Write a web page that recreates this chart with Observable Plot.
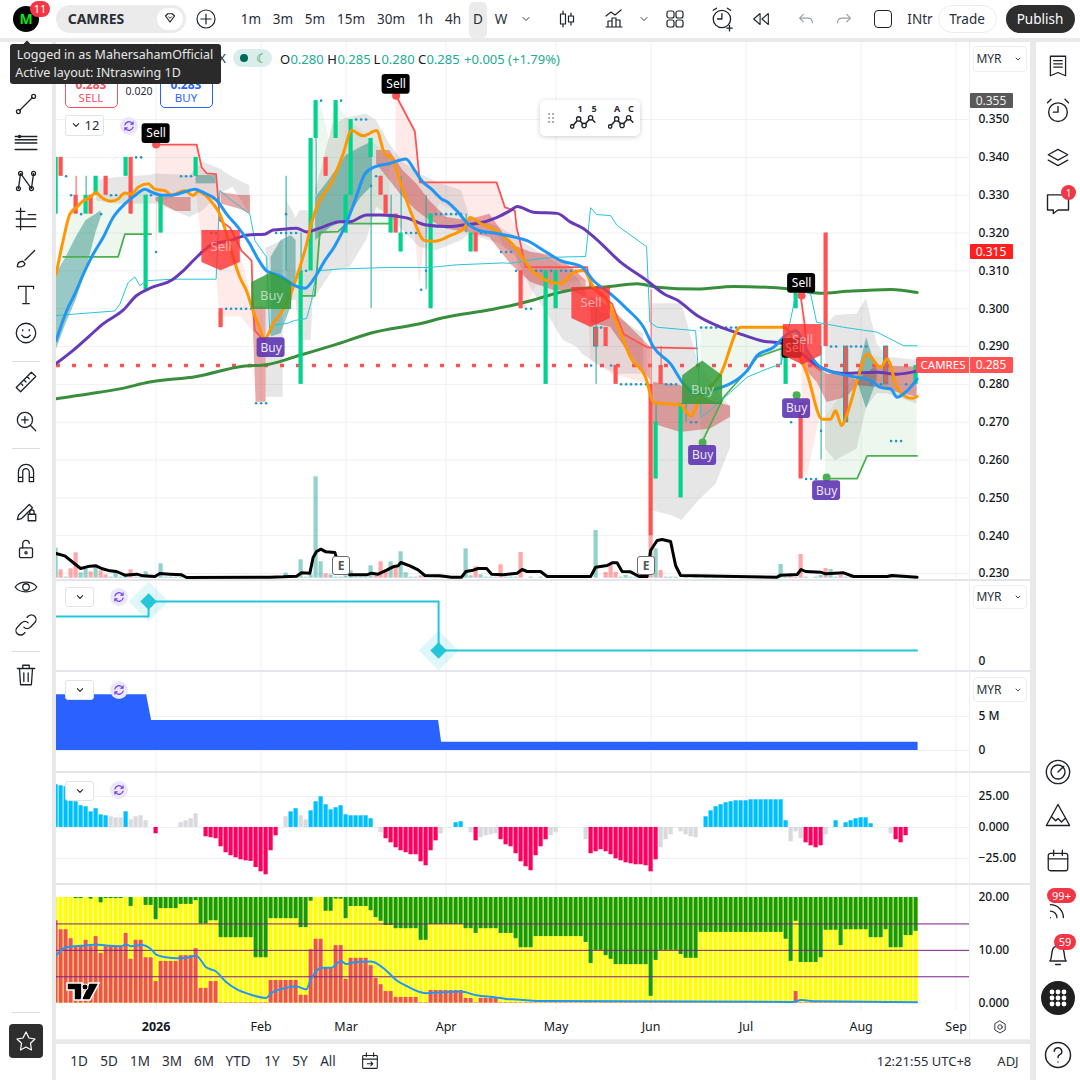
<!DOCTYPE html>
<html><head><meta charset="utf-8">
<script src="https://cdn.jsdelivr.net/npm/d3@7"></script>
<script src="https://cdn.jsdelivr.net/npm/@observablehq/plot@0.6"></script>
<style>
html,body{margin:0;padding:0;background:#e9e9e9;}
#root{position:relative;width:1080px;height:1080px;overflow:hidden;background:#e9e9e9;font-family:"Noto Sans","Open Sans",sans-serif;color:#131722;}
#root svg.plot,#root svg{display:block;max-width:none;}
.abs{position:absolute;}
.t{position:absolute;font-size:13.5px;line-height:16px;white-space:nowrap;transform:translate(-50%,-50%);color:#2a2e39;}
.box{position:absolute;box-sizing:border-box;}
</style></head><body><div id="root"></div>
<script>
// ---------- bar positions and month ticks ----------
const monthTicks=[20,41,58,78,100,119,138,161,180];
const monthLabels=["2026","Feb","Mar","Apr","May","Jun","Jul","Aug","Sep"];
const priceTicks=[0.23,0.24,0.25,0.26,0.27,0.28,0.29,0.30,0.31,0.32,0.33,0.34,0.35];
const lastPrice=0.285;

// ---------- candles [bar, open, close, high, low] ----------
const candles=[[0,.325,.34,.34,.325],[1,.34,.335,.34,.335],[4,.33,.325,.335,.325],[6,.325,.33,.335,.325],[7,.33,.325,.33,.325],[8,.33,.335,.335,.33],[10,.335,.33,.335,.33],[14,.335,.34,.34,.335],[15,.34,.325,.34,.325],[18,.305,.33,.33,.305],[21,.32,.33,.33,.32],[28,.335,.34,.34,.335],[33,.30,.295,.30,.295],[46,.325,.325,.335,.31],[49,.28,.31,.32,.28],[51,.31,.345,.345,.31],[52,.345,.355,.355,.33],[54,.34,.335,.34,.335],[56,.345,.355,.355,.345],[58,.32,.33,.33,.32],[59,.33,.35,.35,.33],[63,.34,.345,.345,.30],[65,.335,.33,.335,.33],[66,.33,.325,.33,.325],[67,.32,.325,.33,.32],[68,.325,.32,.325,.32],[69,.315,.32,.335,.315],[74,.31,.31,.33,.305],[75,.30,.325,.325,.30],[82,.32,.32,.325,.32],[83,.315,.32,.32,.315],[84,.32,.315,.32,.315],[93,.31,.30,.31,.30],[98,.28,.31,.31,.28],[100,.30,.31,.31,.30],[108,.295,.29,.30,.28],[110,.295,.29,.295,.29],[112,.285,.28,.285,.28],[119,.28,.24,.305,.24],[120,.255,.27,.275,.255],[121,.285,.28,.29,.28],[125,.25,.275,.275,.25],[126,.271,.271,.275,.27],[145,.29,.29,.29,.285],[146,.28,.29,.29,.28],[148,.30,.305,.305,.30],[149,.275,.255,.275,.255],[153,.268,.268,.29,.26],[154,.32,.29,.32,.29],[158,.29,.27,.29,.27],[166,.29,.28,.29,.28],[172,.28,.285,.285,.28]];
const mixedBars=[108,158,166];
const dojiDots=[[2,.335],[3,.33],[5,.325],[9,.325],[11,.33],[12,.33],[13,.33],[16,.34],[17,.34],[19,.33],[20,.315],[25,.335],[26,.335],[27,.335],[29,.315],[31,.32],[32,.32],[34,.30],[35,.30],[36,.30],[37,.30],[38,.30],[39,.30],[40,.275],[41,.275],[42,.275],[44,.32],[45,.32],[46,.32],[47,.32],[48,.32],[46,.325],[50,.31],[53,.355],[57,.355],[60,.35],[61,.35],[62,.35],[63,.3325],[64,.335],[70,.32],[71,.32],[72,.32],[73,.305],[74,.31],[76,.325],[77,.325],[78,.325],[79,.325],[80,.325],[81,.325],[85,.32],[86,.32],[87,.32],[88,.32],[89,.315],[90,.315],[91,.315],[92,.31],[94,.30],[95,.30],[96,.31],[97,.31],[99,.31],[101,.31],[102,.31],[103,.31],[104,.31],[105,.31],[107,.285],[109,.295],[111,.285],[113,.28],[114,.28],[115,.28],[116,.28],[117,.28],[118,.28],[122,.28],[123,.28],[124,.28],[127,.27],[128,.27],[129,.295],[130,.295],[131,.295],[132,.295],[133,.295],[134,.295],[135,.295],[136,.295],[147,.27],[150,.255],[151,.255],[152,.255],[153,.2677],[155,.29],[156,.29],[159,.29],[160,.29],[161,.29],[162,.29],[163,.28],[164,.28],[165,.28],[167,.265],[168,.265],[169,.265],[170,.28]];

// ---------- moving averages [bar, price] ----------
const orange=[[0,.3091],[1.4,.318],[2.75,.325],[4.1,.3268],[5.4,.3285],[6.75,.3294],[8,.3307],[9.1,.3294],[11.1,.3284],[12.4,.329],[13.75,.3306],[15.1,.3303],[16.4,.3321],[18.4,.333],[19.75,.3316],[21.75,.3312],[23.1,.33],[25.75,.3312],[27.4,.3299],[28.4,.331],[29.75,.3301],[31.4,.3277],[32.75,.325],[34.1,.3197],[35.4,.3136],[36.75,.3083],[38.1,.3047],[39.4,.2994],[40.4,.296],[41.75,.2921],[43.4,.296],[46.4,.3022],[48.1,.3083],[50.1,.3171],[51.1,.3228],[52.4,.3277],[55.1,.3334],[57.4,.3409],[59.1,.3471],[61.4,.3457],[64.1,.3471],[65.75,.3409],[67.1,.34],[68.75,.3338],[71.1,.325],[73.75,.318],[75.75,.3178],[78.75,.3193],[81.75,.3215],[82.75,.3241],[85.1,.3224],[88.1,.3206],[92.1,.3158],[95.2,.3101],[98.2,.3074],[100.9,.3066],[103.5,.3096],[105.5,.3101],[107.5,.3057],[109.9,.303],[112.2,.296],[114.9,.2871],[117.9,.2819],[119.5,.2752],[124.9,.2746],[126.9,.2717],[128.9,.2766],[132.9,.2827],[136.9,.2951],[145.6,.2951],[148.2,.2889],[150.2,.2827],[153.2,.2708],[154.9,.2708],[155.9,.273],[157.1,.2691],[158.2,.2722],[160.6,.2827],[162.2,.288],[164.9,.2845],[166.2,.2867],[168.2,.2792],[169.2,.2775],[171.2,.2763],[172.2,.2768]];
const blue=[[0,.2916],[2.1,.2994],[3.75,.3039],[5.75,.31],[7.4,.3144],[9.4,.3188],[11.4,.3241],[13.75,.3277],[15.75,.3299],[17.75,.3316],[19.1,.3308],[21.1,.33],[23.1,.33],[25.75,.3309],[27.75,.3316],[29.75,.3305],[32.1,.3287],[34.1,.325],[36.4,.3215],[38.75,.3171],[40.4,.3131],[42.1,.31],[44.75,.3087],[47.75,.3061],[49.75,.3054],[51.75,.3083],[53.75,.3127],[55.75,.3166],[58.1,.3228],[59.75,.3285],[61.75,.3356],[63.75,.3375],[66.75,.3384],[69.95,.3396],[71.75,.3365],[73.4,.3334],[75.1,.3316],[77.1,.329],[78.4,.3281],[80.4,.3255],[82.1,.3228],[84.75,.3206],[88.1,.3199],[92.1,.3188],[94.2,.318],[97.5,.3154],[100.9,.3127],[105.2,.311],[107.5,.3074],[110.9,.3039],[114.2,.2999],[117.5,.2951],[119.5,.2898],[122.9,.2854],[125.5,.2801],[128.2,.2775],[130.9,.2783],[138.2,.2836],[140.2,.2876],[143.5,.2898],[145.9,.2929],[147.9,.2942],[150.2,.2889],[152.9,.2845],[156.9,.2827],[160.2,.2819],[162.9,.281],[164.9,.2792],[166.9,.2788],[168.2,.2766],[170.2,.2783],[172.2,.2814]];
const purple=[[0,.2855],[3.4,.289],[6.75,.2929],[9.4,.296],[13.4,.2996],[16.1,.3035],[18.75,.3054],[23.4,.3078],[25.4,.31],[28.1,.3136],[31.4,.3171],[34.75,.318],[38.4,.3195],[41.75,.3197],[43.4,.3208],[46.1,.3211],[48.1,.3213],[50.1,.3203],[52.75,.3213],[56.75,.323],[58.75,.323],[62.1,.3248],[65.1,.3248],[70.1,.324],[74.1,.3221],[78.1,.3217],[81.4,.3221],[84.1,.3225],[88.1,.3241],[90.9,.326],[92.2,.327],[95.5,.3255],[100.2,.3252],[102.9,.3229],[105.2,.3214],[108.2,.3182],[112.9,.3123],[118.2,.3074],[121.6,.3039],[124.2,.3023],[128.2,.2982],[132.2,.2955],[136.9,.2933],[141.5,.2914],[144.9,.2909],[148.2,.2889],[152.9,.2845],[157.5,.2829],[164.2,.2832],[168.2,.2827],[172.2,.2835]];
const longMA=[[0,.2762],[6.75,.2775],[12.75,.2788],[18.75,.2806],[28.1,.2821],[37.4,.2848],[42.1,.2852],[48.75,.2877],[55.4,.2903],[63.4,.2937],[73.4,.2962],[77.4,.2976],[86.75,.2997],[90.9,.3008],[94.9,.3021],[99.5,.3039],[104.2,.3052],[110.2,.3058],[116.2,.3066],[120.2,.3057],[128.2,.3052],[135.5,.3059],[146.9,.3052],[152.9,.3041],[158.2,.3046],[166.9,.3051],[172.2,.3043]];
const cyan=[[0,.2982],[11.75,.2994],[12.75,.3012],[14.4,.3069],[15.75,.3084],[16.75,.3061],[18.1,.3074],[23.4,.3078],[32,.3078],[32.75,.3312],[34.75,.329],[38.75,.325],[39.75,.318],[42.1,.3136],[42.75,.2934],[43.4,.2956],[46.4,.2962],[47.75,.2969],[50.1,.2974],[51.1,.3022],[52.1,.31],[56.75,.3105],[66.75,.3109],[74.75,.3109],[80.1,.3116],[89.4,.3121],[90.9,.312],[94.9,.3129],[99.5,.3136],[105.9,.3138],[106.9,.3267],[108.1,.3249],[110.9,.3246],[112.2,.322],[118.1,.3164],[118.75,.2964],[120.2,.2951],[127.9,.2942],[128.5,.2827],[129,.2713],[131.5,.2739],[134.9,.2779],[138.2,.2819],[142.2,.2841],[145,.2854],[148.2,.3052],[150.9,.3039],[152.1,.2964],[157.5,.2951],[164.2,.2938],[169.5,.2902],[172.2,.2902]];

// ---------- trend stops [bar, price] ----------
const redStops=[
 [[19.95,.3434],[28.1,.3434],[29.1,.3374],[30.1,.3358],[32,.3356],[32.75,.3233],[34.75,.3215],[37.1,.3153],[39.1,.3127],[39.4,.2994],[39.75,.2943],[41.75,.2912]],
 [[68,.3563],[71.75,.3469],[72.75,.3334],[88.1,.3334],[89.75,.3268],[91.75,.3259],[92.1,.3215],[92.9,.3171],[93.9,.311],[106.2,.311],[106.9,.3057],[111.2,.3013],[113.5,.2933],[118.2,.2898],[128.2,.2895]],
 [[148.9,.3035],[149.7,.296],[150.2,.2863],[152.9,.2836]]];
const greenStops=[
 [[1.4,.3137],[12.4,.3137],[13.75,.3197],[19,.3197]],
 [[49.1,.3034],[51.75,.3034],[52.75,.3202],[56.4,.3204],[58.1,.3225],[66.75,.3225]],
 [[129,.2642],[133.5,.2766],[138.2,.2836],[140.2,.2872],[144.9,.2894]],
 [[153.9,.2551],[160.2,.2551],[162.2,.2611],[172.2,.2611]]];

// ---------- shaded bands [bar, upper, lower] ----------
const pinkBands=[
 [[20,.3434,.3171],[21.4,.3434,.3285],[28,.3434,.3312],[29,.3374,.3194],[32,.3338,.31],[32.75,.3215,.2978],[37,.3136,.2978],[39.4,.3022,.294],[41,.2934,.2925]],
 [[68,.3563,.34],[71.75,.3469,.3206],[72.75,.3334,.3056],[73.75,.3334,.318],[76.75,.3334,.3277],[88.1,.3334,.3206],[89.75,.3268,.3162],[92.1,.3215,.3144],[92.9,.3171,.303],[93.9,.311,.30],[96,.311,.306],[106,.311,.3074],[107,.3057,.2863],[111.2,.3013,.2827],[113.5,.2933,.2819],[118.2,.2898,.2801]],
 [[149.2,.3035,.258],[150.2,.2863,.2554],[152.9,.2836,.2722]]];
const paleGreenBands=[
 [[1.4,.318,.3137],[2.75,.325,.3137],[8,.3307,.3137],[12.4,.329,.3137],[13.75,.3306,.3197],[19,.3321,.3197]],
 [[49.1,.31,.3034],[51.75,.3268,.3034],[52.75,.355,.3202],[54.75,.3444,.3202],[55.75,.355,.3204],[58.1,.3506,.3225],[66.75,.34,.3225]],
 [[129,.2951,.2642],[133.5,.2951,.2766],[138.2,.2951,.2836],[140.2,.2951,.2872],[144.9,.2951,.2894]],
 [[153.9,.2713,.2551],[160.2,.2827,.2551],[162.2,.288,.2611],[166.2,.2867,.2611],[169.5,.2766,.2611],[172.2,.2766,.2611]]];
const greyBands=[
 [[8.1,.3338,.3285],[12.1,.3347,.3277],[18.75,.3352,.3277],[20.1,.3356,.3277],[26.75,.3352,.3241],[29.4,.3387,.3259],[32.75,.3369,.3303],[35.4,.3347,.3321],[38.75,.3325,.325]],
 [[42,.316,.2766],[45.4,.318,.2766]],
 [[46,.329,.3022],[48,.324,.3022],[48.75,.3259,.2916],[51,.3259,.2916],[51.4,.3285,.3022],[55.4,.3488,.31],[58.75,.3506,.3109],[62.1,.3515,.318],[64.1,.3497,.3268],[66.75,.3435,.3246],[69.4,.3387,.3206],[72.75,.3356,.3162],[76.1,.3334,.3153],[81.1,.3312,.318],[82.75,.3241,.3197],[88.75,.3215,.3171],[92.1,.3188,.3136],[94.9,.3163,.3057],[98.2,.3136,.2986],[101.5,.311,.2916],[104.2,.3083,.2898],[105.2,.306,.288],[108.2,.2995,.2854],[112.2,.2977,.2827],[117.5,.2933,.2827]],
 [[119.2,.3013,.2466],[123.2,.3013,.2453],[125.2,.3013,.244],[128.5,.2854,.2492],[132,.2790,.2536],[134.9,.2739,.2633]],
 [[153.9,.2955,.2629],[155.9,.2982,.2598],[160.2,.2986,.2629],[162.1,.3026,.2739],[164.2,.2907,.2775],[166.2,.2872,.2775],[172.2,.2863,.2748]]];
const tealBands=[
 [[0,.3091,.289],[2,.3136,.296],[4,.3188,.3022],[6,.3233,.31],[8,.325,.3202],[9,.3259,.3241]],
 [[28,.3352,.333],[32,.3352,.333]],
 [[43,.3136,.2925],[45,.318,.2934],[47,.3193,.3004],[48,.318,.3091]],
 [[51.9,.3294,.318],[55,.3347,.3215],[58,.3405,.3233],[61,.3427,.3294],[63,.344,.3321]],
 [[160.2,.2819,.281],[162.1,.2924,.2735],[164.2,.2836,.281]]];
const redBands=[
 [[20,.3294,.3285],[24,.3294,.3257],[27,.3294,.3257]],
 [[33,.3307,.3277],[36.75,.3299,.3263],[38.9,.3299,.325]],
 [[39.5,.3004,.2934],[40,.3004,.2753],[42,.3004,.2753]],
 [[64.1,.3418,.3382],[66.75,.3418,.3338],[69.4,.3365,.3294],[72.1,.333,.3259],[74.75,.3285,.3233],[78.1,.3241,.321],[82.1,.3233,.3202],[86.75,.325,.3188],[90.9,.3171,.3118],[94.9,.3149,.307],[99.5,.314,.3048],[103,.311,.3048],[106,.3074,.303]],
 [[107,.303,.296],[110.9,.3004,.2951],[114.2,.296,.2889],[118.9,.2898,.281]],
 [[119.5,.2805,.2695],[124.9,.2797,.2673],[130.9,.2757,.2682],[134.9,.2742,.2713]],
 [[148.9,.2916,.2854],[152.2,.2849,.2805],[154.2,.2827,.2752],[158.2,.2827,.2766],[160.2,.281,.2797],[164.2,.2849,.2792],[172.2,.2845,.2766]]];

// ---------- signal labels: [bar, tag price, dot price] ----------
const blackSell=[[20,.3463,.3434],[68,.3593,.3563],[149.1,.3067,.3035]];
const hiddenSell=[[147.2,.2895]];
const purpleBuy=[[43,.2897,.2925],[129.3,.2612,.2646],[148.1,.2736,.2771],[154.1,.2519,.2554]];
// big tags: [bar, top, bottom, tip]
const bigSell=[[33,.3207,.3122,.3100],[107,.3056,.2974,.2950],[149.3,.2958,.2876,.2851]];
const bigBuy=[[43.1,.3069,.2998,.3095],[129.3,.2823,.2747,.2862]];

// ---------- volume ----------
const volUp=[[0,90],[5,16],[6,27],[8,32],[12,17],[14,7],[18,19],[21,43],[46,15],[49,55],[51,10],[52,304],[53,49],[55,10],[58,7],[59,22],[63,37],[67,49],[69,79],[70,16],[82,88],[83,7],[85,10],[108,143],[114,8],[118,5],[120,88],[145,41],[153,8],[155,26]];
const volDown=[[1,25],[3,28],[4,76],[7,19],[9,22],[10,10],[15,25],[54,13],[64,7],[65,49],[66,22],[68,36],[73,7],[84,34],[89,40],[93,77],[110,17],[111,38],[112,17],[119,130],[121,23],[147,5],[149,71],[154,29],[157,8],[167,11]];
const volTiny=[2,11,13,16,17,19,20,22,23,24,25,26,27,28,47,48,50,56,57,60,61,62,71,72,74,75,76,77,78,79,86,87,88,90,91,92,95,97,99,101,103,105,113,115,116,117,122,123,124,126,128,130,132,134,136,138,140,142,144,146,148,150,152,156,158,159,160,161,162,163,164,165,166,168,169,170,171,172];
const volAvg=[[0,74],[1.75,67],[3.4,47],[4.9,29],[6.75,36],[8,37],[9.1,29],[10.75,22],[12.1,20],[13.75,9],[16.1,12],[17.4,7],[19.75,5],[20.75,14],[22.75,12],[25.1,10],[26.1,2],[42.75,3],[45.4,4],[48.1,6],[49.1,16],[50.75,15],[51.4,62],[52.1,80],[52.95,87],[53.95,79],[55.75,77],[56.5,40],[58.75,10],[62.1,10],[63.1,15],[64.4,12],[66.1,24],[67.4,34],[68.4,37],[68.95,47],[70.75,37],[72.4,25],[73.75,8],[76.75,7],[79.1,3],[81.1,3],[81.95,20],[83.4,24],[84.4,29],[86.1,29],[87.1,12],[89.4,10],[92.2,15],[93.2,26],[94.2,20],[96.9,20],[98.2,5],[106.9,5],[107.9,33],[110.2,38],[111.2,46],[112.2,46],[113.2,20],[114.9,19],[116.6,5],[118.2,5],[118.9,83],[120.2,113],[121.2,116],[122.9,110],[123.9,38],[124.9,8],[144.2,3],[144.9,9],[148.2,11],[149,26],[149.9,20],[152.9,18],[153.9,13],[157.5,16],[159.5,5],[166.2,5],[167.2,8],[172.2,3]];

// ---------- lower panes ----------
const stepLine=[[0,.0045],[18.5,.0045],[18.5,.006],[76.5,.006],[76.5,.0011],[172.2,.0011]];
const stepMarks=[[18.5,.006],[76.5,.0011]];
const floatArea=[[0,8.2],[18.1,8.2],[19.1,4.4],[76.5,4.4],[77.1,1.2],[172.4,1.2]];
const macd=[[34.4,'b'],[33.6,'b'],[32.8,'b'],[28,'b'],[20.7,'b'],[17.5,'b'],[16.7,'b'],[12.6,'b'],[15.1,'b'],[10.2,'b'],[9.4,'b'],[8.6,'g'],[7.8,'g'],[7.8,'g'],[12.6,'b'],[6.2,'g'],[8.6,'g'],[9.4,'g'],[5.4,'g'],[0,'g'],[-5.1,'r'],[0,'g'],[0,'g'],[0,'g'],[0,'g'],[3.8,'g'],[5.4,'g'],[7,'g'],[11,'g'],[0,'g'],
[-7.5,'r'],[-8.3,'r'],[-9.1,'r'],[-15.6,'r'],[-20.4,'r'],[-22.8,'r'],[-24.5,'r'],[-26.1,'r'],[-26.9,'r'],[-27.4,'r'],[-32.3,'r'],[-35.8,'r'],[-38.2,'r'],[-18.8,'r'],[-6.7,'r'],[0,'g'],[8.6,'g'],[12.6,'b'],[15.1,'b'],[9.4,'g'],[6.2,'g'],[13.4,'b'],[20.7,'b'],[24.7,'b'],[18.3,'b'],[14.2,'b'],[15.9,'b'],[17.5,'b'],[10.2,'b'],[9.4,'b'],[9.4,'b'],[9.4,'b'],[9.4,'b'],[7,'b'],[0,'g'],
[-4.3,'g'],[-9.1,'r'],[-12.4,'r'],[-16.4,'r'],[-18.8,'r'],[-20.4,'r'],[-22,'r'],[-22,'r'],[-27.7,'r'],[-30.9,'r'],[-18.8,'r'],[-10.8,'r'],[-5.1,'g'],[0,'g'],[0,'g'],[3.8,'b'],[4.6,'b'],[0,'g'],[-4.3,'g'],[-10.8,'r'],[-8.3,'g'],[-6.7,'g'],[-5.9,'g'],[-5.1,'g'],[-9.9,'r'],[-14,'r'],[-15.6,'r'],
[-21.2,'r'],[-27.7,'r'],[-31.7,'r'],[-34.9,'r'],[-22.8,'r'],[-15.6,'r'],[-9.9,'r'],[-6.7,'g'],[-4.3,'g'],[0,'g'],[0,'g'],[0,'g'],[0,'g'],[0,'g'],[-9.9,'g'],[-21.2,'r'],[-19.6,'r'],[-18,'r'],[-19.6,'r'],[-22,'r'],[-25.3,'r'],[-26.9,'r'],[-28.5,'r'],[-29.3,'r'],[-30.1,'r'],[-30.1,'r'],[-30.9,'r'],[-35.8,'r'],[-26.1,'r'],[-16.4,'g'],[-9.9,'g'],[-5.9,'g'],[0,'g'],[-3.5,'g'],[-5.9,'g'],[-7.5,'g'],[-8.3,'g'],[0,'g'],
[8.6,'b'],[13.4,'b'],[16.7,'b'],[18.3,'b'],[19.9,'b'],[20.7,'b'],[21.5,'b'],[21.5,'b'],[21.5,'b'],[22.3,'b'],[22.3,'b'],[22.3,'b'],[22.3,'b'],[22.3,'b'],[22.3,'b'],[22.3,'b'],[5.4,'b'],[-11.6,'g'],[-3.5,'g'],[-9.1,'g'],[-12.4,'r'],[-14.8,'r'],[-16.4,'r'],[-14.8,'r'],[-5.9,'g'],[0,'g'],[5.4,'b'],[0,'g'],[3.8,'b'],[5.4,'b'],[7,'b'],[7.8,'b'],[7.8,'b'],[3,'b'],[0,'g'],[0,'g'],[0,'g'],[-5.1,'g'],[-9.9,'r'],[-12.4,'r'],[-6.7,'r'],[0,'g'],[0,'g']];
const greenRuns=[[20,4],[19.8,2],[20,1],[19.7,1],[20,1],[19,1],[19.8,4],[20,1],[18.3,1],[20,2],[18.5,2],[15.8,1],[17.9,4],[18.7,3],[19.4,1],[15,2],[15.6,2],[12.4,7],[8.6,3],[16,6],[14.3,2],[19.3,1],[20,2],[17.4,2],[19.7,2],[16,1],[18.3,4],[17.5,1],[16.2,1],[15.5,1],[14.7,2],[14.1,5],[11.9,2],[14.9,7],[14.1,2],[13.2,1],[14.1,4],[13.2,3],[12.2,1],[10.5,3],[12.6,10],[11.5,1],[7.5,1],[10,2],[9,1],[8.3,1],[7.3,7],[1.3,1],[8.1,1],[10,4],[9.2,1],[8.5,3],[13.4,17],[12.1,1],[7.9,1],[15.5,1],[7.7,4],[8.6,1],[13.8,3],[10.9,1],[13.9,5],[12.4,3],[13.9,1],[10.5,3],[12.8,2],[13.6,1]];
const redRuns=[[15.6,1],[13.9,2],[12.2,1],[10.7,2],[11.9,1],[10.7,1],[12.6,1],[9.4,1],[10.7,4],[13.2,1],[8.3,1],[11.9,2],[8.6,2],[4.1,1],[7.9,4],[9,3],[10.3,1],[2.8,2],[4.1,2],[.1,10],[4.3,6],[1.5,2],[10.1,1],[12.1,2],[6.6,2],[10.9,2],[4.5,1],[8.5,4],[7.1,1],[4.7,1],[3.5,1],[2.2,2],[1.1,5],[.1,2],[2.4,7],[.9,2],[.1,1],[.9,4],[.1,59],[2.2,1],[.1,24]];
const flowLine=[[0,9],[2,10.6],[4,10.8],[6,10.9],[8,11.1],[10,10.9],[13,10.8],[14,11.1],[15,10.8],[17,11],[19,10.2],[20,9.2],[22,8.7],[24,8.5],[26,8.6],[28,9],[30,6.8],[32,6],[34,4],[36,2.7],[39,1.6],[42,1],[43,1.9],[46,2.9],[48,3.2],[50,2.6],[51,4.6],[53,6.7],[55,6.7],[57,8],[58,7.4],[60,7.8],[63,7.9],[66,6.2],[68,4.4],[70,3.3],[74,1.9],[81,2.2],[84,1.5],[88,1.1],[90,.8],[92,.7],[98,.4],[147.5,.25],[149,.6],[152,.35],[172.2,.2]];
const flowLevels=[5,10,15];

// ---------- colours ----------
const C={grid:"#eff0f4",orange:"#ff9800",blue:"#2196f3",purple:"#673ab7",ma:"#388e3c",cyan:"#26c6da",red:"#ff5252",green:"#4caf50",up:"#00d48a",wick:"#26a69a",ink:"#131722"};

const root=document.getElementById("root");
const expand=runs=>runs.flatMap(([v,n])=>Array(n).fill(v));
const xDomain=[0.08,182.88];
const X=d=>d[0],Y=d=>d[1];
const vGrid=Plot.ruleX(monthTicks,{stroke:C.grid,strokeWidth:1});

function place(el,left,top,z){el.style.position="absolute";el.style.left=left+"px";el.style.top=top+"px";el.style.zIndex=z||1;root.appendChild(el);return el;}
function pane(top,h,yDomain,marks,opts={},z=1){
  const svg=Plot.plot({width:974,height:h+(opts.marginBottom||0),marginLeft:0,marginRight:60,marginTop:0,marginBottom:opts.marginBottom||0,
    x:{domain:xDomain,axis:null},y:{domain:yDomain,axis:null},style:{background:"transparent",fontFamily:'"Noto Sans","Open Sans",sans-serif',fontSize:"12px",overflow:"visible"},marks});
  return place(svg,56,top,z);
}
const rightAxis=(ticks,fmt)=>Plot.axisY({anchor:"right",ticks,tickSize:0,tickPadding:8,tickFormat:fmt,fontSize:12,fontWeight:500,fill:C.ink,label:null});
const bandMarks=(bands,fill,opacity)=>bands.map(b=>Plot.areaY(b,{x:X,y1:d=>d[1],y2:d=>d[2],fill,fillOpacity:opacity,curve:"linear"}));
const lineMark=(data,stroke,w,curve="linear")=>Plot.line(data,{x:X,y:Y,stroke,strokeWidth:w,curve,strokeLinejoin:"round"});
// five-sided tag: flat box with a point on its top or bottom edge
const sellShape=([i,top,bot,tip])=>[[i-3.85,top,bot],[i,top,tip],[i+3.85,top,bot]];
const buyShape=([i,top,bot,tip])=>[[i-4,top,bot],[i,tip,bot],[i+4,top,bot]];

// white chart backdrop
const bg=document.createElement("div");bg.className="box";bg.style.cssText="left:56px;top:42px;width:974px;height:998px;background:#fff;";root.appendChild(bg);

// ---------- main price pane ----------
const isMixed=d=>mixedBars.includes(d[0]);
const bodyFill=d=>d[2]>=d[1]?C.up:C.red;
const wickColor=d=>(isMixed(d)||d[2]>=d[1])?C.wick:C.red;
const bodies=candles.filter(d=>d[1]!==d[2]);
const tagW=2.8,tagH=.00262;
pane(42,536,[.22868,.37037],[
  Plot.ruleY(priceTicks,{stroke:C.grid,strokeWidth:1}),vGrid,
  ...bandMarks(pinkBands,C.red,.12),
  ...bandMarks(paleGreenBands,C.green,.1),
  ...bandMarks(greyBands,"#808080",.2),
  ...bandMarks(tealBands,"#00796b",.4),
  ...bandMarks(redBands,"#c62828",.4),
  ...redStops.map(s=>lineMark(s,C.red,1.8)),
  ...greenStops.map(s=>lineMark(s,C.green,1.8)),
  Plot.ruleY([lastPrice],{x1:.08,x2:172.2,stroke:C.red,strokeWidth:3.5,strokeDasharray:"4 12"}),
  lineMark(longMA,C.ma,3,"monotone-x"),
  Plot.ruleX(candles,{x:X,y1:d=>d[4],y2:d=>d[3],stroke:wickColor,strokeWidth:1}),
  Plot.rect(bodies,{x1:d=>d[0]-.42,x2:d=>d[0]+.42,y1:d=>d[1],y2:d=>d[2],fill:bodyFill,stroke:d=>isMixed(d)?C.wick:"none",strokeWidth:1}),
  Plot.dot(dojiDots,{x:X,y:Y,r:1.3,fill:"#2196c9"}),
  lineMark(cyan,C.cyan,1),
  lineMark(purple,C.purple,3,"monotone-x"),
  lineMark(orange,C.orange,3,"monotone-x"),
  lineMark(blue,C.blue,3,"monotone-x"),
  // a Sell tag sitting behind the last big tag
  Plot.rect(hiddenSell,{x1:d=>d[0]-2,x2:d=>d[0]+2,y1:d=>d[1]-tagH,y2:d=>d[1]+tagH,fill:"#000",rx:3}),
  Plot.text(hiddenSell,{x:d=>d[0]+.6,y:Y,text:()=>"Sell",fill:"#fff",fontSize:12}),
  // big translucent Sell / Buy tags
  ...bigSell.map(b=>Plot.areaY(sellShape(b),{x:X,y1:d=>d[2],y2:Y,fill:"#ff3030",fillOpacity:.8,curve:"linear"})),
  Plot.text(bigSell,{x:X,y:d=>(d[1]+d[2])/2,text:()=>"Sell",fill:"#fff",fillOpacity:.55,fontSize:13}),
  ...bigBuy.map(b=>Plot.areaY(buyShape(b),{x:X,y1:d=>d[2],y2:Y,fill:"#2e9b36",fillOpacity:.82,curve:"linear"})),
  Plot.text(bigBuy,{x:X,y:d=>(d[1]+d[2])/2,text:()=>"Buy",fill:"#fff",fillOpacity:.6,fontSize:13}),
  // signal dots + tags
  Plot.dot(blackSell,{x:X,y:d=>d[2],r:4,fill:C.red}),
  Plot.dot(purpleBuy.slice(1),{x:X,y:d=>d[2],r:4,fill:C.green}),
  Plot.rect(blackSell,{x1:d=>d[0]-tagW,x2:d=>d[0]+tagW,y1:d=>d[1]-tagH,y2:d=>d[1]+tagH,fill:"#000",rx:3}),
  Plot.text(blackSell,{x:X,y:Y,text:()=>"Sell",fill:"#fff",fontSize:12}),
  Plot.rect(purpleBuy,{x1:d=>d[0]-tagW,x2:d=>d[0]+tagW,y1:d=>d[1]-tagH,y2:d=>d[1]+tagH,fill:"#5e35b1",fillOpacity:.9,rx:3}),
  Plot.text(purpleBuy,{x:X,y:Y,text:()=>"Buy",fill:"#fff",fillOpacity:.9,fontSize:12}),
  rightAxis(priceTicks,d3.format(".3f"))
]);
// volume overlay shares the bottom of the price pane
pane(42,536,[-1,1607],[
  Plot.rect(volTiny,{x1:d=>d-.4,x2:d=>d+.4,y1:0,y2:3,fill:C.wick,fillOpacity:.5}),
  Plot.rect(volUp,{x1:d=>d[0]-.42,x2:d=>d[0]+.42,y1:0,y2:Y,fill:C.wick,fillOpacity:.5}),
  Plot.rect(volDown,{x1:d=>d[0]-.42,x2:d=>d[0]+.42,y1:0,y2:Y,fill:C.red,fillOpacity:.5}),
  lineMark(volAvg,"#000",3)
],{},2);

// ---------- pane 2 ----------
pane(581,89,[-.0009,.008],[
  vGrid,
  Plot.dot(stepMarks,{x:X,y:Y,r:18,symbol:"diamond2",fill:C.cyan,fillOpacity:.15}),
  Plot.line(stepLine,{x:X,y:Y,stroke:C.cyan,strokeWidth:2,curve:"linear"}),
  Plot.dot(stepMarks,{x:X,y:Y,r:7.5,symbol:"diamond2",fill:C.cyan}),
  rightAxis([0],d=>"0")
]);
// ---------- pane 3 ----------
pane(672,99,[-3.09,11.47],[
  Plot.ruleY([0,5],{stroke:C.grid}),vGrid,
  Plot.areaY(floatArea,{x:X,y1:0,y2:Y,fill:"#2962ff",curve:"linear"}),
  rightAxis([0,5],d=>d===0?"0":d+" M")
]);
// ---------- pane 4 ----------
const macdColor={b:"#00bfff",g:"#d9d9de",r:"#ff0060"};
pane(773,110,[-45.2,43.5],[
  Plot.ruleY([-25,0,25],{stroke:C.grid}),vGrid,
  Plot.rect(macd.map((d,i)=>({i,v:d[0],k:d[1]})).filter(d=>d.v!==0),{x1:d=>d.i-.42,x2:d=>d.i+.42,y1:0,y2:"v",fill:d=>macdColor[d.k]}),
  rightAxis([-25,0,25],d=>d===0?"0.000":(d<0?"−":"")+Math.abs(d).toFixed(2))
]);
// ---------- pane 5 with the time axis ----------
const greenTop=expand(greenRuns),redTop=expand(redRuns);
const flowRows=greenTop.map((g,i)=>({i,g,r:redTop[i]}));
const p5=pane(884,126,[-1.38,22.46],[
  vGrid,
  Plot.rect(flowRows,{x1:d=>d.i-.4,x2:d=>d.i+.4,y1:0,y2:20,fill:"#ffff00"}),
  Plot.rect(flowRows,{x1:d=>d.i-.4,x2:d=>d.i+.4,y1:"g",y2:20,fill:"#149a0a"}),
  Plot.rect(flowRows,{x1:d=>d.i-.4,x2:d=>d.i+.4,y1:0,y2:"r",fill:"#ef5350"}),
  Plot.ruleY(flowLevels,{x1:.08,x2:182.88,stroke:"#7b1f8c",strokeWidth:1}),
  lineMark(flowLine,C.blue,2,"monotone-x"),
  rightAxis([0,10,20],d=>d===0?"0.000":d.toFixed(2)),
  Plot.axisX({anchor:"bottom",ticks:monthTicks,tickSize:0,tickPadding:12,tickFormat:d=>monthLabels[monthTicks.indexOf(d)],fontSize:12.5,fill:"#131722",label:null})
],{marginBottom:30});
d3.select(p5).selectAll("text").filter(function(){return this.textContent==="2026"}).style("font-weight",700);

// ---------- chrome ----------
function T(txt,x,y,o={}){const d=document.createElement("div");d.className="t";d.textContent=txt;d.style.left=x+"px";d.style.top=y+"px";d.style.zIndex=o.z||5;
 if(o.size)d.style.fontSize=o.size+"px";if(o.color)d.style.color=o.color;if(o.weight)d.style.fontWeight=o.weight;root.appendChild(d);return d;}
function B(x,y,w,h,css,z){const d=document.createElement("div");d.className="box";d.style.cssText=`left:${x}px;top:${y}px;width:${w}px;height:${h}px;z-index:${z||4};`+(css||"");root.appendChild(d);return d;}
function I(x,y,inner,s,vb){const w=s||24;const d=document.createElement("div");d.className="abs";d.style.cssText=`left:${x-w/2}px;top:${y-w/2}px;width:${w}px;height:${w}px;z-index:6;`;
 d.innerHTML=`<svg width="${w}" height="${w}" viewBox="0 0 ${vb||24} ${vb||24}" fill="none" stroke="#1f2328" stroke-width="1.2" stroke-linejoin="round" stroke-linecap="round">${inner}</svg>`;root.appendChild(d);return d;}

// bars around the chart
B(0,0,1080,38,"background:#fff;");
B(0,42,52,1038,"background:#fff;");
B(52,38,4,1042,"background:#e9e9e9;",4);
B(1036,42,44,1038,"background:#fff;");
B(56,1044,974,36,"background:#fff;");
// pane separators and scale border
[579,670,771,883].forEach(y=>B(56,y,974,2,"background:#e4e5ec;",3));
B(969,42,1,998,"background:#eceef3;",3);
B(56,1039,974,1,"background:#eceef3;",3);
// top bar
B(56,5,130,28,"background:#ebebeb;border-radius:14px;");
T("CAMRES",96,19,{weight:700,size:14});
B(157,8,26,22,"background:#fff;border-radius:11px;",5);
I(170,19,'<path d="M6 8l3-3h6l3 3-6 8z" stroke-width="1.6"/><path d="M10 9l2 2 2-2" stroke-width="1.2"/>',18);
I(206,19,'<circle cx="12" cy="12" r="9"/><path d="M12 7v10M7 12h10"/>',24);
[["1m",251],["3m",283],["5m",315],["15m",351],["30m",391],["1h",425],["4h",453],["W",501]].forEach(([s,x])=>T(s,x,19));
B(469,2,18,36,"background:#ebebeb;border-radius:5px;");T("D",478,19);
I(526,19,'<path d="M8 10l4 4 4-4"/>',18);
I(567,19,'<path d="M8 4v3M8 17v3M16 6v3M16 15v3"/><rect x="5.5" y="7" width="5" height="10"/><rect x="13.5" y="9" width="5" height="6"/>',24);
I(614,19,'<path d="M4 20h16M6 20v-6h4v6M10 20v-9h4v9M14 20v-7h4v7M4 9l5-4 4 3 6-5"/>',24);
I(644,19,'<path d="M8 10l4 4 4-4"/>',18);
I(675,19,'<rect x="4" y="4" width="7" height="7" rx="2"/><rect x="13" y="4" width="7" height="7" rx="2"/><rect x="4" y="13" width="7" height="7" rx="2"/><rect x="13" y="13" width="7" height="7" rx="2"/>',24);
I(723,19,'<circle cx="11" cy="12" r="8"/><path d="M11 7v5H7M3 4l3-2M19 4l-3-2M18 18v5M15.5 20.5h5"/>',26);
I(761,19,'<path d="M11 6l-7 6 7 6zM20 6l-7 6 7 6z"/>',22);
I(806,19,'<path d="M9 7L5 11l4 4M5 11h9c3 0 5 2 5 5" stroke="#9a9ea6"/>',22);
I(844,19,'<path d="M15 7l4 4-4 4M19 11h-9c-3 0-5 2-5 5" stroke="#9a9ea6"/>',22);
B(874,10,18,18,"border:1.3px solid #1f2328;border-radius:4px;",5);
T("INtr",920,19);
B(938,5,59,28,"background:#fff;border:1px solid #ececec;border-radius:14px;",5);T("Trade",967,19,{z:7});
B(1006,5,69,28,"background:#2e2e2e;border-radius:14px;",5);T("Publish",1040,19,{color:"#fff",z:7});
// logo + tooltip
B(13,6,26,26,"background:#000;border-radius:13px;",5);
T("M",26,19,{color:"#12e01a",weight:700,size:14,z:6});
B(30,1,20,16,"background:#f23645;border-radius:8px;",6);T("11",40,9,{color:"#fff",size:11,z:7});
B(10,44,211,40,"background:#2a2a2a;border-radius:3px;",7);
I(27,44,'<path d="M6 12l6-6 6 6z" fill="#2a2a2a" stroke="none"/>',14);
T("Logged in as MahersahamOfficial",115,55,{color:"#e6e6e6",size:12.5,z:8});
T("Active layout: INtraswing 1D",98,73,{color:"#e6e6e6",size:12.5,z:8});
// legend row
T("X",222,58,{size:13,z:5});
B(233,49,39,18,"background:#d9eeea;border-radius:9px;");
B(240,54,8,8,"background:#00695c;border-radius:4px;",5);
T("☾",262,58,{color:"#2e7d32",size:13});
[["O",285,"#131722"],["0.280",307,"#22ab94"],["H",332,"#131722"],["0.285",354,"#22ab94"],["L",377,"#131722"],["0.280",398,"#22ab94"],["C",422,"#131722"],["0.285",443,"#22ab94"],["+0.005 (+1.79%)",512,"#22ab94"]].forEach(([s,x,c])=>T(s,x,58.5,{color:c,size:13}));
// order buttons
B(65,78,53,30,"background:#fff;border:1px solid #f7525f;border-radius:5px;");
T("0.283",91,85,{color:"#f7525f",size:12,weight:700,z:5});
T("SELL",91,98,{color:"#f7525f",size:11.5});
B(160,78,53,30,"background:#fff;border:1px solid #2962ff;border-radius:5px;");
T("0.283",186,85,{color:"#2962ff",size:12,weight:700,z:5});
T("BUY",186,98,{color:"#2962ff",size:11.5});
T("0.020",139,91,{size:10.5});
// collapse buttons + sync icons
B(65,115,39,21,"background:#fff;border:1px solid #e0e3eb;border-radius:3px;");
I(76,125,'<path d="M8 10l4 4 4-4" stroke-width="1.6"/>',16);T("12",92,125,{size:13});
const sync=(x,y)=>{B(x-9,y-9,18,18,"background:#ebe6fa;border-radius:9px;");
 I(x,y,'<path d="M5 10a7 7 0 0 1 12-3l2 2M19 14a7 7 0 0 1-12 3l-2-2M19 5v4h-4M5 19v-4h4" stroke="#6a3de8" stroke-width="2"/>',14);};
sync(129,126);
[[587,119,597],[680,119,690],[781,119,790]].forEach(([y,sx,sy])=>{B(65,y,29,20,"background:#fff;border:1px solid #e0e3eb;border-radius:3px;");I(79.5,y+10,'<path d="M8 10l4 4 4-4" stroke-width="1.6"/>',16);sync(sx,sy);});
// floating drawing widget
B(540,100,100,36,"background:#fff;border-radius:5px;box-shadow:0 1px 5px rgba(0,0,0,.2);",5);
I(551,118,'<circle cx="9" cy="6" r="1" fill="#9a9ea6" stroke="#9a9ea6"/><circle cx="15" cy="6" r="1" fill="#9a9ea6" stroke="#9a9ea6"/><circle cx="9" cy="12" r="1" fill="#9a9ea6" stroke="#9a9ea6"/><circle cx="15" cy="12" r="1" fill="#9a9ea6" stroke="#9a9ea6"/><circle cx="9" cy="18" r="1" fill="#9a9ea6" stroke="#9a9ea6"/><circle cx="15" cy="18" r="1" fill="#9a9ea6" stroke="#9a9ea6"/>',16);
const wave='<path d="M2 18L8 11L13 17L19 10L23 14" stroke-width="1.4"/><circle cx="8" cy="11" r="2" fill="#fff"/><circle cx="13" cy="17" r="2" fill="#fff"/><circle cx="19" cy="10" r="2" fill="#fff"/><circle cx="2" cy="18" r="1.6" fill="#fff"/>';
I(583,120,wave,26);I(621,120,wave,26);
[["1",580],["5",594],["A",617],["C",631]].forEach(([s,x])=>T(s,x,109,{size:9,weight:700,z:7}));
// E events
[[332],[637]].forEach(([x])=>{B(x,556,18,19,"background:#fff;border:1.5px solid #6b6b6b;border-radius:3px;",5);T("E",x+9,565.5,{size:12,weight:700,color:"#555",z:6});});
// TradingView mark
const tv=document.createElement("div");tv.className="abs";tv.style.cssText="left:65px;top:981px;width:36px;height:22px;z-index:5;";
tv.innerHTML='<svg width="36" height="22" viewBox="0 0 36 22"><path d="M2 2h15v17h-8V9H2z M24 2h10l-9 17H16z" fill="#000" stroke="#fff" stroke-width="1.6"/><circle cx="20" cy="6" r="3" fill="#000" stroke="#fff" stroke-width="1"/></svg>';root.appendChild(tv);
// price tags
B(970,93,43,15,"background:#595959;border-radius:1px;",5);T("0.355",991,100.5,{color:"#eee",size:12});
B(970,244,43,15,"background:#ff1f1f;border-radius:1px;",5);T("0.315",991,251.5,{color:"#fff",size:12});
B(916,357,53,16,"background:#ff5252;border-radius:2px 0 0 2px;",5);T("CAMRES",943,365,{color:"#fff",size:11.5,z:6});
B(970,357,43,16,"background:#ff5252;border-radius:1px;",5);T("0.285",991,365,{color:"#fff",size:12,z:6});
// currency boxes
[[46,26],[585,24],[677,25]].forEach(([y,h])=>{B(973,y,54,h,"background:#fff;border:1px solid #eceef3;border-radius:4px;",4);T("MYR",989,y+h/2,{size:12,z:6});I(1018,y+h/2,'<path d="M8 10l4 4 4-4" stroke-width="1.6"/>',12);});
// gear + time row
I(1000,1027,'<circle cx="12" cy="12" r="3"/><path d="M12 4l6.9 4v8L12 20l-6.9-4V8z"/>',18);
[["1D",79],["5D",109],["1M",140],["3M",172],["6M",204],["YTD",238],["1Y",272],["5Y",300],["All",328]].forEach(([s,x])=>T(s,x,1061,{size:13.5}));
I(370,1061,'<rect x="4" y="6" width="16" height="14" rx="1"/><path d="M4 10h16M8 3v4M16 3v4M9 15h6M13 13l2 2-2 2"/>',22);
T("12:21:55 UTC+8",924,1061,{size:13});T("ADJ",1008,1061,{size:13});
// left tools
const LX=26;
I(LX,104,'<path d="M6 18L18 6"/><circle cx="5" cy="19" r="1.8"/><circle cx="19" cy="5" r="1.8"/>',26);
I(LX,143,'<path d="M2 6h20M2 12h20M2 18h20M2 9h20"/><circle cx="6" cy="6" r="1"/>',26);
I(LX,181,'<path d="M5 19L7 5 17 19 19 5"/><circle cx="5" cy="19" r="1.8"/><circle cx="7" cy="5" r="1.8"/><circle cx="17" cy="19" r="1.8"/><circle cx="19" cy="5" r="1.8"/>',26);
I(LX,219,'<path d="M3 5h8M3 12h18M3 19h18M7 2v20M14 8h7"/>',26);
I(LX,258,'<path d="M4 20c0-4 3-5 5-5l2 2c0 2-3 4-7 3zM11 14l9-9"/>',26);
I(LX,295,'<path d="M5 6V4h14v2M12 4v16M9 20h6"/>',26);
I(LX,333,'<circle cx="12" cy="12" r="9"/><path d="M8 14c2 3 6 3 8 0M9 9v1M15 9v1"/>',26);
I(LX,382,'<path d="M3 17L17 3l4 4L7 21zM7 13l2 2M10 10l2 2M13 7l2 2"/>',26);
I(LX,421,'<circle cx="11" cy="11" r="7"/><path d="M16 16l5 5M8 11h6M11 8v6"/>',26);
I(LX,473,'<path d="M5 20V11a7 7 0 0 1 14 0v9h-4v-9a3 3 0 0 0-6 0v9zM5 16h4M15 16h4"/>',26);
I(LX,511,'<path d="M4 20l1-4L15 6l3 3L8 19zM14 15h7v6h-7zM15.5 15v-2a2 2 0 0 1 4 0v2"/>',26);
I(LX,549,'<rect x="6" y="11" width="12" height="9" rx="1"/><path d="M9 11V7a3 3 0 0 1 6 0"/><circle cx="12" cy="15.5" r="1"/>',26);
I(LX,587,'<path d="M2 12c4-6 16-6 20 0-4 6-16 6-20 0z"/><circle cx="12" cy="12" r="3"/>',26);
I(LX,625,'<path d="M10 14a4 4 0 0 0 6 0l4-4a4 4 0 0 0-6-6l-1 1M14 10a4 4 0 0 0-6 0l-4 4a4 4 0 0 0 6 6l1-1"/>',26);
I(LX,675,'<path d="M4 6h16M9 6V3h6v3M6 6l1 15h10l1-15M10 10v8M14 10v8"/>',26);
B(9,1024,34,34,"background:#2e2e2e;border-radius:4px;",5);
I(26,1041,'<path d="M12 3l3 6 6 1-4.5 4.3L17.5 21 12 18l-5.5 3 1-6.7L3 10l6-1z" stroke="#fff"/>',24);
[361,448,651,1012].forEach(y=>B(12,y,28,1,"background:#dcdcdc;",5));
// right rail
const RX=1058;
I(RX,66,'<path d="M5 3h14v18l-7-3-7 3zM8 7h8M8 10h8M8 13h8"/>',26);
I(RX,111,'<circle cx="12" cy="13" r="8"/><path d="M12 8v5H8M3 5l3-3M21 5l-3-3"/>',28);
I(RX,158,'<path d="M12 4l9 5-9 5-9-5zM3 14l9 5 9-5"/>',26);
I(RX,203,'<path d="M3 5h18v13h-9l-4 3v-3H3z"/>',28);
B(1061,185,15,15,"background:#f23645;border-radius:8px;",6);T("1",1068.5,192.5,{color:"#fff",size:10,z:7});
I(RX,772,'<circle cx="12" cy="12" r="10"/><circle cx="12" cy="12" r="6"/><path d="M12 12l5-5"/>',28);
I(RX,815,'<path d="M2 21h20L12 3zM7 14l3 3 2-2 3 3 3-3"/>',28);
I(RX,861,'<rect x="3" y="5" width="18" height="16" rx="2"/><path d="M3 10h18M8 2v5M16 2v5"/>',26);
I(RX,909,'<path d="M5 20v.1M5 14a6 6 0 0 1 6 6M5 8a12 12 0 0 1 12 12"/>',26);
B(1047,888,29,15,"background:#f23645;border-radius:8px;",6);T("99+",1061.5,895.5,{color:"#fff",size:11,z:7});
I(RX,954,'<path d="M5 18c2-2 1-5 2-8a5 5 0 0 1 10 0c1 3 0 6 2 8zM10 21h4"/>',28);
B(1054,934,22,16,"background:#f23645;border-radius:8px;",6);T("59",1065,942,{color:"#fff",size:11,z:7});
B(1041,981,34,34,"background:#1f1f1f;border-radius:17px;",5);
I(1058,998,'<g fill="#fff" stroke="none"><circle cx="6" cy="6" r="2.4"/><circle cx="12" cy="6" r="2.4"/><circle cx="18" cy="6" r="2.4"/><circle cx="6" cy="12" r="2.4"/><circle cx="12" cy="12" r="2.4"/><circle cx="18" cy="12" r="2.4"/><circle cx="6" cy="18" r="2.4"/><circle cx="12" cy="18" r="2.4"/><circle cx="18" cy="18" r="2.4"/></g>',24);
I(RX,1055,'<circle cx="12" cy="12" r="10"/><path d="M9 9a3 3 0 1 1 4 3c-1 .5-1 1-1 2M12 17.5v.1"/>',30);
</script></body></html>
